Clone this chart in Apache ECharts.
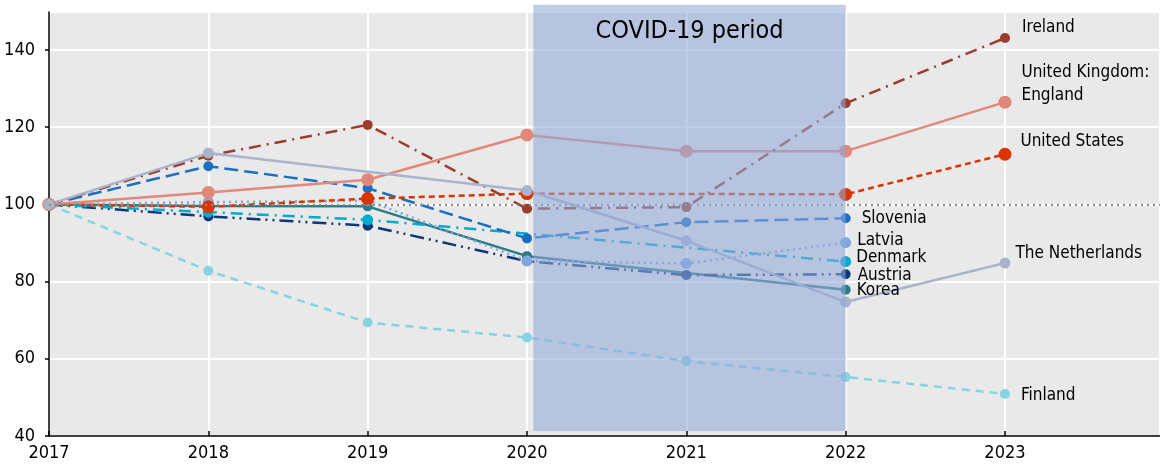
<!DOCTYPE html>
<html>
<head>
<meta charset="utf-8">
<script src="https://cdn.jsdelivr.net/npm/echarts@6/dist/echarts.min.js"></script>
<style>html,body{margin:0;padding:0;background:#fff}#c{width:1160px;height:466px}</style>
</head>
<body>
<div id="c"></div>
<script>
const years = [2017, 2018, 2019, 2020, 2021, 2022, 2023];
const yTicks = [40, 60, 80, 100, 120, 140];
const countryNames = ['Finland', 'Korea', 'Austria', 'Denmark', 'Latvia', 'Slovenia', 'United States', 'United Kingdom:\nEngland', 'Ireland', 'The Netherlands'];
const finland = [100, 82.8, 69.4, 65.5, 59.4, 55.3, 50.9];
const korea = [100, 99.6, 99.5, 86.6, null, 77.9, null];
const austria = [100, 96.9, 94.5, 85.3, 81.7, 81.9, null];
const denmark = [100, 98.0, 96.0, null, null, 85.2, null];
const latvia = [100, 100.6, 101.0, 85.4, 84.7, 90.1, null];
const slovenia = [100, 109.9, 104.2, 91.2, 95.4, 96.4, null];
const unitedStates = [100, 99.4, 101.5, 102.8, null, 102.6, 113.0];
const ukEngland = [100, 103.1, 106.4, 118.0, 113.8, 113.8, 126.5];
const ireland = [100, 112.6, 120.6, 98.9, 99.3, 126.2, 143.1];
const netherlands = [100, 113.3, null, 103.6, 90.6, 74.7, 84.8];
const covidStart = 2020.04, covidEnd = 2022;
const covidLow = 41.3, covidHigh = 151.7;
const covidTitle = 'COVID-19 period';
const referenceLevel = 100;

const FONT = "'Liberation Sans Narrow', 'Arial Narrow', 'DejaVu Sans Condensed', sans-serif";

const styles = [
  {color: '#86d3e3', type: [8, 6], width: 2.5, size: 10, off: [6, 2]},
  {color: '#2b7a88', type: 'solid', width: 2.5, size: 10, off: [1, 1]},
  {color: '#0d3778', type: [14, 5, 2, 5, 2, 5], width: 2.5, size: 10, off: [2, 1]},
  {color: '#00aacd', type: [12, 6, 2, 6], width: 2.5, size: 11, off: [0, -4]},
  {color: '#7fa6de', type: [2, 4], width: 2.5, size: 11, off: [1, -2]},
  {color: '#1a6fc1', type: [14, 6], width: 2.5, size: 10, off: [6, 0]},
  {color: '#dc3400', type: [6, 4], width: 2.5, size: 13, off: [4, -13]},
  {color: '#e0887a', type: 'solid', width: 2.5, size: 13, off: [5, -18]},
  {color: '#9b3c2c', type: [12, 6, 2, 6], width: 2.5, size: 10, off: [7, -10]},
  {color: '#a9b4cc', type: 'solid', width: 2.5, size: 11, off: [0, -10]}
];
const allData = [finland, korea, austria, denmark, latvia, slovenia, unitedStates, ukEngland, ireland, netherlands];

function lastIndex(arr) { for (let i = arr.length - 1; i >= 0; i--) if (arr[i] != null) return i; return -1; }

const series = allData.map((arr, k) => {
  const st = styles[k];
  const li = lastIndex(arr);
  return {
    type: 'line',
    name: countryNames[k],
    z: 2,
    connectNulls: true,
    symbol: 'circle',
    symbolSize: st.size,
    itemStyle: {color: st.color},
    lineStyle: {color: st.color, width: st.width, type: st.type},
    data: years.map((y, i) => {
      if (arr[i] == null) return [y, null];
      const item = {value: [y, arr[i]]};
      if (i === li) {
        item.label = {show: true, position: 'right', formatter: countryNames[k], offset: st.off,
          color: '#000', fontSize: 17, fontFamily: FONT, lineHeight: 23};
      }
      return item;
    })
  };
});

series.push({
  type: 'line', name: 'ref', z: 1, data: [], symbol: 'none',
  markLine: {silent: true, symbol: 'none', label: {show: false},
    lineStyle: {color: '#8a8a8a', type: [2, 4], width: 2},
    data: [{yAxis: referenceLevel}]}
});

const chart = echarts.init(document.getElementById('c'));
chart.setOption({
  animation: false,
  grid: {left: 49, right: 0, top: 12, bottom: 30, show: true, backgroundColor: '#e9e9e9', borderWidth: 0},
  xAxis: {
    type: 'value', min: years[0], max: 2023.973, interval: 1,
    axisLine: {show: true, lineStyle: {color: '#000', width: 1.5}},
    axisTick: {show: true, inside: true, length: 5, lineStyle: {color: '#000', width: 1.5}},
    splitLine: {show: true, lineStyle: {color: '#fff', width: 2}},
    axisLabel: {color: '#000', fontSize: 18, fontFamily: FONT, margin: 8, showMaxLabel: false,
      formatter: v => years.includes(v) ? String(v) : ''}
  },
  yAxis: {
    type: 'value', min: yTicks[0], max: 149.85, interval: 20,
    axisLine: {show: true, lineStyle: {color: '#000', width: 1.5}},
    axisTick: {show: true, length: 4, lineStyle: {color: '#000', width: 1.5}},
    splitLine: {show: true, lineStyle: {color: '#fff', width: 2}},
    axisLabel: {color: '#000', fontSize: 18, fontFamily: FONT, margin: 14, showMaxLabel: false,
      formatter: v => yTicks.includes(v) ? String(v) : ''}
  },
  series: series
});

// COVID band positioned through the chart's own scales
const p0 = chart.convertToPixel({gridIndex: 0}, [covidStart, covidHigh]);
const p1 = chart.convertToPixel({gridIndex: 0}, [covidEnd, covidLow]);
chart.setOption({
  graphic: [
    {type: 'rect', z: 50, silent: true,
      shape: {x: p0[0], y: p0[1], width: p1[0] - p0[0], height: p1[1] - p0[1]},
      style: {fill: 'rgba(144,169,217,0.58)'}},
    {type: 'text', z: 51, silent: true, x: (p0[0] + p1[0]) / 2, y: p0[1] + 14,
      style: {text: covidTitle, fill: '#000', fontSize: 25, fontFamily: FONT, align: 'center', verticalAlign: 'top'}}
  ]
});
</script>
</body>
</html>
